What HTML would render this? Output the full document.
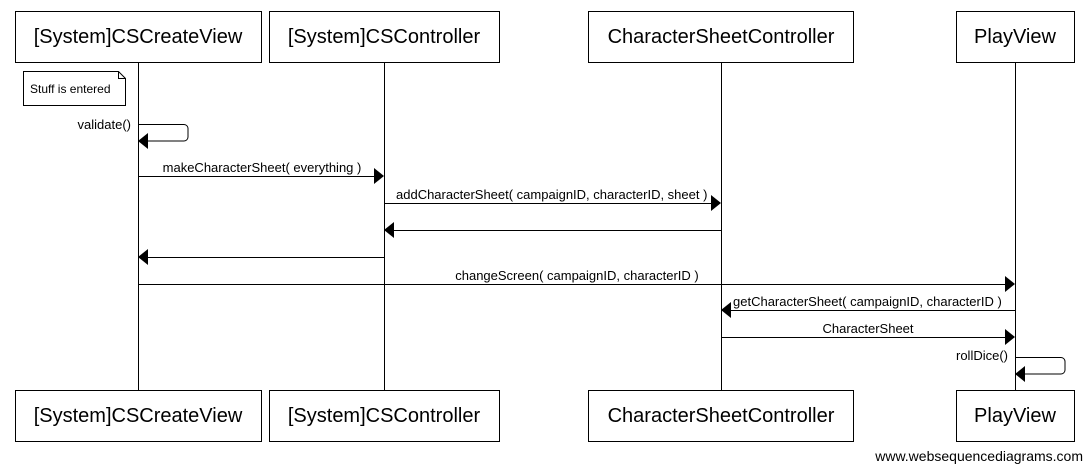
<!DOCTYPE html>
<html><head><style>body{margin:0;background:#fff}svg{display:block}text{font-family:"Liberation Sans",sans-serif}</style></head><body>
<svg width="1087" height="464" xmlns="http://www.w3.org/2000/svg">
<g stroke="#000" stroke-width="1" fill="none">
<line x1="138.5" y1="62" x2="138.5" y2="390"/>
<line x1="384.5" y1="62" x2="384.5" y2="390"/>
<line x1="721.5" y1="62" x2="721.5" y2="390"/>
<line x1="1015.5" y1="62" x2="1015.5" y2="390"/>
<rect x="15.5" y="11.5" width="246" height="51" fill="#fff"/>
<rect x="269.5" y="11.5" width="230" height="51" fill="#fff"/>
<rect x="588.5" y="11.5" width="265" height="51" fill="#fff"/>
<rect x="956.5" y="11.5" width="118" height="51" fill="#fff"/>
<rect x="15.5" y="390.5" width="246" height="51" fill="#fff"/>
<rect x="269.5" y="390.5" width="230" height="51" fill="#fff"/>
<rect x="588.5" y="390.5" width="265" height="51" fill="#fff"/>
<rect x="956.5" y="390.5" width="118" height="51" fill="#fff"/>
<path d="M23.5 71.5H118.5L125.5 78.5V105.5H23.5Z M118.5 71.5V78.5H125.5" fill="#fff"/>
<path d="M138.5 124.5H184a4 4 0 0 1 4 4v8.5a4 4 0 0 1-4 4H146"/>
<path d="M1015.5 357.5H1061a4 4 0 0 1 4 4v8.5a4 4 0 0 1-4 4H1023"/>
<line x1="138" y1="176.5" x2="376" y2="176.5"/>
<line x1="384" y1="203.5" x2="713" y2="203.5"/>
<line x1="721" y1="230.5" x2="392" y2="230.5"/>
<line x1="384" y1="257.5" x2="146" y2="257.5"/>
<line x1="138" y1="284.5" x2="1007" y2="284.5"/>
<line x1="1015" y1="310.5" x2="729" y2="310.5"/>
<line x1="721" y1="337.5" x2="1007" y2="337.5"/>
</g>
<g fill="#000">
<polygon points="138,141 148,133 148,149"/>
<polygon points="1015,374 1025,366 1025,382"/>
<polygon points="384,176 374,168 374,184"/>
<polygon points="721,203 711,195 711,211"/>
<polygon points="384,230 394,222 394,238"/>
<polygon points="138,257 148,249 148,265"/>
<polygon points="1015,284 1005,276 1005,292"/>
<polygon points="721,310 731,302 731,318"/>
<polygon points="1015,337 1005,329 1005,345"/>
</g>
<g font-size="20" text-anchor="middle">
<text x="138" y="43">[System]CSCreateView</text>
<text x="384" y="43">[System]CSController</text>
<text x="721" y="43">CharacterSheetController</text>
<text x="1015" y="43">PlayView</text>
<text x="138" y="422">[System]CSCreateView</text>
<text x="384" y="422">[System]CSController</text>
<text x="721" y="422">CharacterSheetController</text>
<text x="1015" y="422">PlayView</text>
</g>
<g font-size="13">
<text x="30" y="93" font-size="12">Stuff is entered</text>
<text x="131" y="129" text-anchor="end">validate()</text>
<text x="262" y="172" text-anchor="middle">makeCharacterSheet( everything )</text>
<text x="396" y="199">addCharacterSheet( campaignID, characterID, sheet )</text>
<text x="577" y="280" text-anchor="middle">changeScreen( campaignID, characterID )</text>
<text x="733" y="306">getCharacterSheet( campaignID, characterID )</text>
<text x="868" y="333" text-anchor="middle">CharacterSheet</text>
<text x="1008" y="360" text-anchor="end">rollDice()</text>
</g>
<text x="1083" y="461" font-size="14" text-anchor="end">www.websequencediagrams.com</text>
</svg>
</body></html>
